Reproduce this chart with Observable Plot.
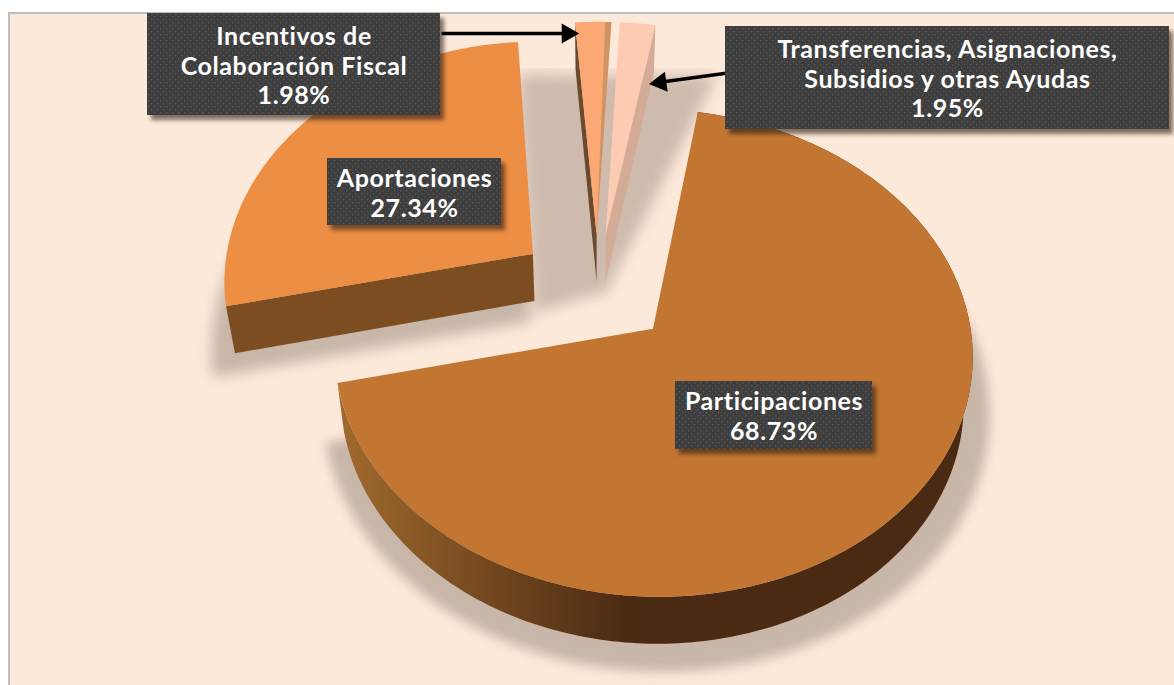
<!DOCTYPE html>
<html>
<head>
<meta charset="utf-8">
<script src="https://cdn.jsdelivr.net/npm/d3@7"></script>
<script src="https://cdn.jsdelivr.net/npm/@observablehq/plot@0.6"></script>
<style>
  html, body { margin: 0; padding: 0; background: #fff; overflow: hidden; }
  svg { display: block; }
  svg text { letter-spacing: 0.6px; }
</style>
</head>
<body>
<div id="chart"></div>
<script>
// ---- chart values ----
const categories = [
  "Participaciones",
  "Aportaciones",
  "Incentivos de\nColaboración Fiscal",
  "Transferencias, Asignaciones,\nSubsidios y otras Ayudas"
];
const shares = [68.73, 27.34, 1.98, 1.95];
const topColors = ["#c27632", "#ec8e43", "#fba874", "#fdcbb2"];
const explosion = [0.24, 0.26, 0.24, 0.24];
const radiusX = [0.995, 0.99, 1.05, 1.05];
const radiusY = [1, 1.03, 1.05, 1.05];

// ---- layout of the labels (separate from the values) ----
const boxLeft = [675, 327, 147, 725];
const boxRight = [872, 501, 440, 1169];
const boxTop = [381, 158, 13, 26];
const boxBottom = [449, 225, 115, 129];
const textMiddle = [415, 192, 65, 78];

// ---- perspective model of the pie ----
const CX = 597, CY = 289, R = 314, P = 0.0976, Q = 0.744, DEPTH = 47, START = 9.9;
const rad = d => d * Math.PI / 180;
function project(X, Y, z = 0) {
  const s = 1 / (1 + P * Y);
  const x = CX + R * X * s, y = CY - R * Q * Y * s;
  return [CX + (x - CX) * (1 - 0.024 * z), y + DEPTH * z];
}
let acc = START;
const slices = shares.map((v, i) => {
  const a0 = acc, a1 = acc + v * 3.6;
  acc = a1;
  const m = rad((a0 + a1) / 2);
  return {a0, a1, ox: explosion[i] * Math.sin(m), oy: explosion[i] * Math.cos(m), rx: radiusX[i], ry: radiusY[i]};
});
const edge = (s, a, z = 0, r = 1) =>
  project(s.ox + r * s.rx * Math.sin(rad(a)), s.oy + r * s.ry * Math.cos(rad(a)), z);
const apex = (s, z = 0) => project(s.ox, s.oy, z);
function arc(s, a0, a1, z = 0, r = 1) {
  const n = Math.max(2, Math.ceil(Math.abs(a1 - a0)));
  return d3.range(n + 1).map(i => edge(s, a0 + (a1 - a0) * i / n, z, r));
}
const sector = (s, a0 = s.a0, a1 = s.a1, z = 0, r = 1) => [apex(s, z), ...arc(s, a0, a1, z, r)];
const grow = (pts, g, dy) => pts.map(([x, y]) => [CX + (x - CX) * g, CY + (y - CY) * g + dy]);
const poly = (pts, fill, extra = {}) =>
  Plot.line(pts, {x: d => d[0], y: d => d[1], fill, stroke: "none", curve: "linear-closed", ...extra});
const quad = (s, a) => [apex(s), edge(s, a), edge(s, a, 1), apex(s, 1)];

const [big, apo, inc, tra] = slices;

function defs() {
  const g = document.createElementNS("http://www.w3.org/2000/svg", "g");
  g.innerHTML = `<defs>
    <linearGradient id="wall" gradientUnits="userSpaceOnUse" x1="340" x2="630" y1="0" y2="0">
      <stop offset="0" stop-color="#a06a2e"/>
      <stop offset="0.5" stop-color="#74481f"/>
      <stop offset="1" stop-color="#4a2a12"/>
    </linearGradient>
    <pattern id="dots" patternUnits="userSpaceOnUse" width="6" height="6">
      <rect width="6" height="6" fill="#3e3e3e"/>
      <rect x="1" y="1" width="1.3" height="1.3" fill="#5a5a5a"/>
      <rect x="4" y="4" width="1.3" height="1.3" fill="#5a5a5a"/>
    </pattern>
  </defs>`;
  return g;
}

const BG = "#fde9da", SH = "#a8968a";
const labels = d3.range(4);
const frame = [{}];
// the shadow that fills the gap between Aportaciones and the two thin slices
const fan = grow([
  apex(apo, 1),
  edge(apo, apo.a1, 1, 1.14),
  edge(tra, tra.a1 + 11, 1, 1.1),
  apex(tra, 1),
  apex(inc, 1)
], 1, 12);

const plot = Plot.plot({
  width: 1174, height: 685, margin: 0,
  style: {background: "#ffffff"},
  x: {domain: [0, 1174], range: [0, 1174], axis: null},
  y: {domain: [0, 685], range: [0, 685], axis: null},
  marks: [
    defs,
    // frame + background
    Plot.rect(frame, {x1: () => 8, x2: () => 1174, y1: () => 12, y2: () => 685, fill: "#bdbdbd"}),
    Plot.rect(frame, {x1: () => 10, x2: () => 1174, y1: () => 14, y2: () => 685, fill: BG}),
    // soft shadows
    poly(grow(sector(big, big.a0, big.a1, 1), 1.07, 3), SH, {fillOpacity: 0.62, imageFilter: "blur(6px)"}),
    poly(grow(sector(apo, apo.a0, apo.a1, 1), 1.06, 20), SH, {fillOpacity: 0.62, imageFilter: "blur(7px)"}),
    poly(fan, SH, {fillOpacity: 0.55, imageFilter: "blur(7px)"}),
    Plot.rect(frame, {x1: () => 450, x2: () => 720, y1: () => 14, y2: () => 68, fill: BG}),
    // walls
    poly([...arc(big, big.a0, big.a1), ...arc(big, big.a1, big.a0, 1)], "url(#wall)"),
    poly(quad(apo, apo.a0), "#7d4d22"),
    poly(quad(inc, inc.a0), "#6b4a30"),
    poly(quad(tra, tra.a1), "#d3ab97"),
    // top surfaces
    ...slices.map((s, i) => poly(sector(s), topColors[i])),
    poly(sector(inc, inc.a1 - 1.2, inc.a1), "#cf9463"),
    // arrows
    Plot.link(frame, {x1: () => 441, y1: () => 33, x2: () => 566, y2: () => 33, stroke: "#000", strokeWidth: 3.5}),
    Plot.dot(frame, {x: () => 567, y: () => 33, symbol: "triangle", r: 7.5, fill: "#000", stroke: "none", rotate: 90}),
    Plot.link(frame, {x1: () => 731, y1: () => 72, x2: () => 665, y2: () => 81, stroke: "#000", strokeWidth: 3.5}),
    Plot.dot(frame, {x: () => 660, y: () => 82, symbol: "triangle", r: 7.5, fill: "#000", stroke: "none", rotate: -98}),
    // labels
    Plot.rect(labels, {
      x1: i => boxLeft[i] + 4, x2: i => boxRight[i] + 4, y1: i => boxTop[i] + 5, y2: i => boxBottom[i] + 5,
      fill: "#2a1a10", fillOpacity: 0.6, imageFilter: "blur(2px)"
    }),
    Plot.rect(labels, {
      x1: i => boxLeft[i], x2: i => boxRight[i], y1: i => boxTop[i], y2: i => boxBottom[i],
      fill: "url(#dots)"
    }),
    Plot.text(labels, {
      x: i => (boxLeft[i] + boxRight[i]) / 2,
      y: i => textMiddle[i],
      text: i => `${categories[i]}\n${shares[i].toFixed(2)}%`,
      fill: "#ffffff", fontFamily: "Lato", fontWeight: 700, fontSize: 25,
      lineHeight: 1.18, lineAnchor: "middle", textAnchor: "middle"
    })
  ]
});
document.getElementById("chart").appendChild(plot);
</script>
</body>
</html>
